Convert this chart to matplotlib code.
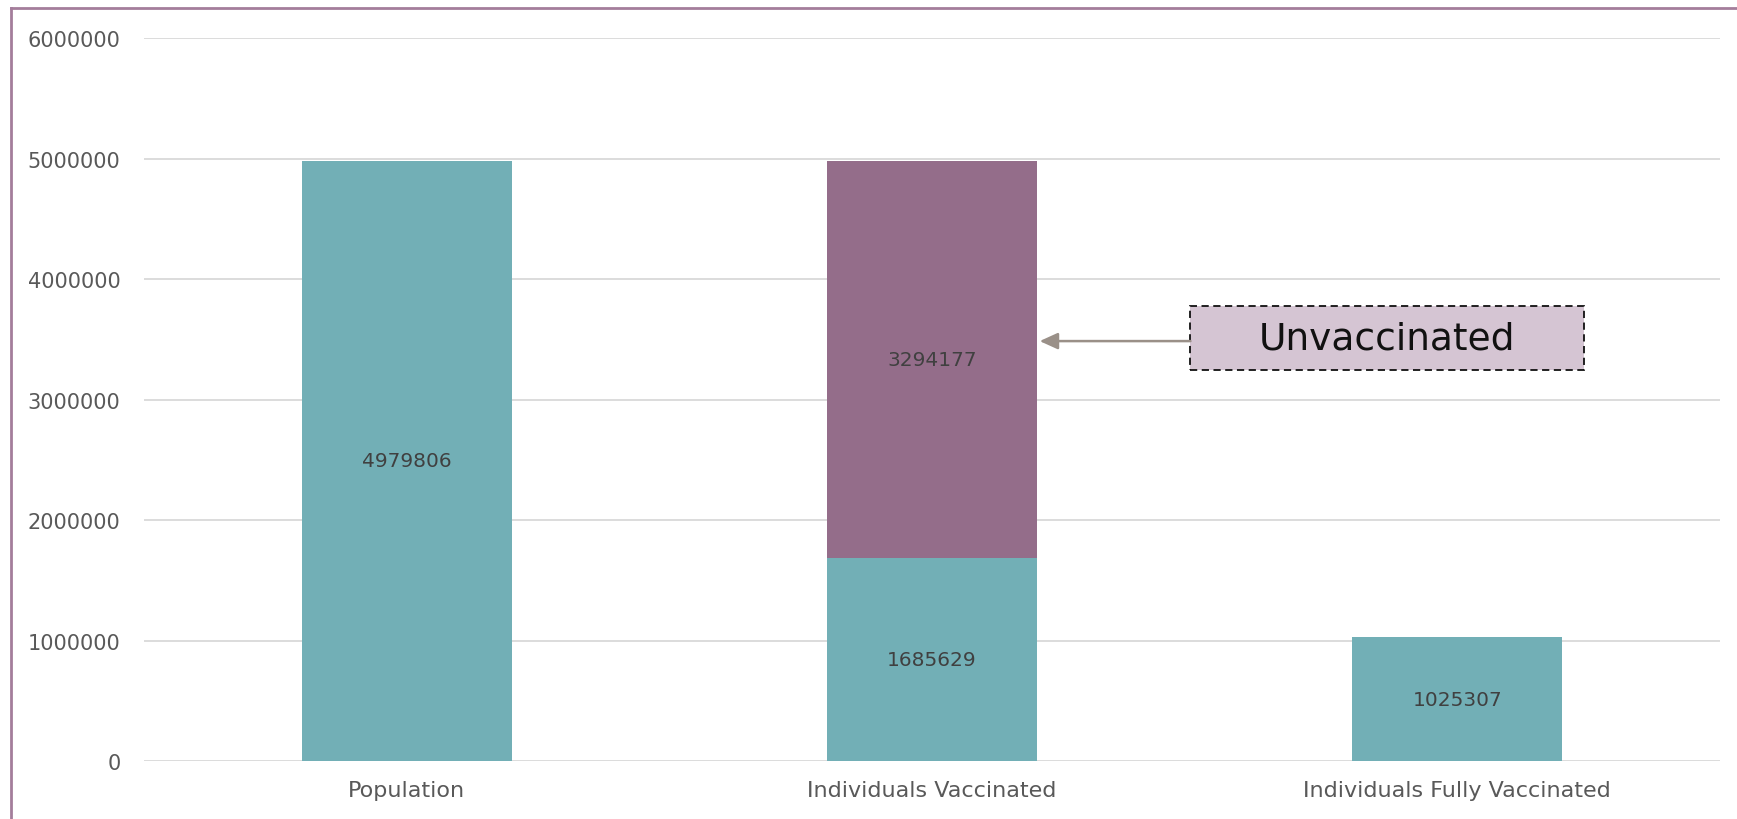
import matplotlib
matplotlib.use("Agg")
import matplotlib.pyplot as plt
from matplotlib.lines import Line2D
from matplotlib.patches import Rectangle

categories = ["Population", "Individuals Vaccinated", "Individuals Fully Vaccinated"]
vaccinated = [4979806, 1685629, 1025307]
unvaccinated = [0, 3294177, 0]
yticks = [0, 1000000, 2000000, 3000000, 4000000, 5000000, 6000000]

teal = "#72AFB6"
purple = "#946D8A"
grey = "#595959"

plt.rcParams['font.family'] = ['DejaVu Sans']

fig = plt.figure(figsize=(17.37, 8.2), dpi=100)
ax = fig.add_axes([0.0829, 0.0707, 0.9073, 0.8817])

x = range(len(categories))
ax.bar(x, vaccinated, width=0.4, color=teal, zorder=3)
ax.bar(x, unvaccinated, width=0.4, bottom=vaccinated, color=purple, zorder=3)

# value labels in the middle of each segment
for i, v in enumerate(vaccinated):
    ax.text(i, v / 2, str(v), ha="center", va="center", fontsize=14.5, color="#404040", zorder=4)
for i, u in enumerate(unvaccinated):
    if u > 0:
        ax.text(i, vaccinated[i] + u / 2, str(u), ha="center", va="center",
                fontsize=14.5, color="#404040", zorder=4)

ax.set_xlim(-0.5, 2.5)
ax.set_ylim(0, 6000000)
ax.set_yticks(yticks)
ax.set_yticklabels([str(t) for t in yticks])
ax.set_xticks(list(x))
ax.set_xticklabels(categories)
ax.tick_params(axis="both", length=0, labelcolor=grey)
ax.tick_params(axis="y", pad=17, labelsize=15)
ax.tick_params(axis="x", pad=14, labelsize=16)
ax.grid(axis="y", color="#D9D9D9", linewidth=1.3, zorder=0)
for s in ax.spines.values():
    s.set_visible(False)

# callout for the unvaccinated segment
box = Rectangle((0.664, 3245000), 0.25, 531000, transform=ax.get_yaxis_transform(),
                fc="#D5C5D3", ec="#111111", ls=(0, (4, 2.5)), lw=1.3, zorder=5)
ax.add_patch(box)
ax.text(0.789, 3510000, "Unvaccinated", transform=ax.get_yaxis_transform(),
        ha="center", va="center", fontsize=27, color="#111111", zorder=6)
ax.annotate("", xy=(1.205, 3485000), xytext=(0.664, 3485000),
            xycoords="data", textcoords=ax.get_yaxis_transform(),
            arrowprops=dict(arrowstyle="-|>,head_length=1.1,head_width=0.5",
                            color="#9A9088", lw=1.8, shrinkA=0, shrinkB=0),
            zorder=5)

# outer frame (top and left visible)
fc = "#A47D9B"
fig.add_artist(Line2D([11 / 1737, 1], [1 - 9 / 820, 1 - 9 / 820], color=fc, lw=2, transform=fig.transFigure))
fig.add_artist(Line2D([11 / 1737, 11 / 1737], [0, 1 - 9 / 820], color=fc, lw=2, transform=fig.transFigure))

fig.savefig("out.png", dpi=100)
